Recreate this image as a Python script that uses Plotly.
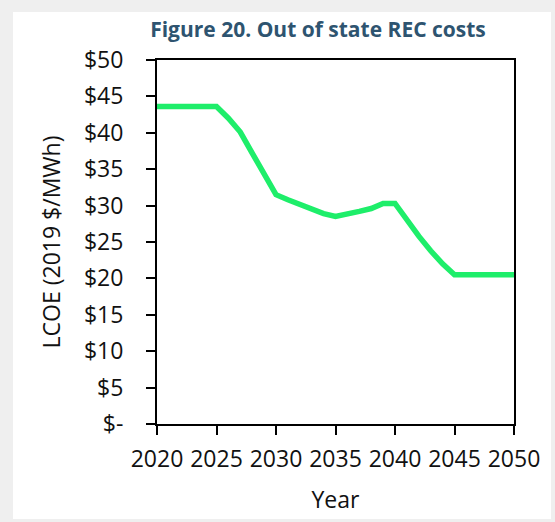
import plotly.graph_objects as go

years = list(range(2020, 2051))
lcoe = [43.6, 43.6, 43.6, 43.6, 43.6, 43.6,
        42.0, 40.1, 37.2, 34.3, 31.5,
        30.8, 30.1, 29.4, 28.9, 28.5,
        28.8, 29.2, 29.6, 30.3, 30.3,
        28.0, 25.8, 23.8, 22.0, 20.5,
        20.5, 20.5, 20.5, 20.5, 20.5]

y_tickvals = [0, 5, 10, 15, 20, 25, 30, 35, 40, 45, 50]
y_ticktext = ["$-", "$5", "$10", "$15", "$20", "$25", "$30", "$35", "$40", "$45", "$50"]
x_tickvals = [2020, 2025, 2030, 2035, 2040, 2045, 2050]

W, H = 555, 522
L, R, T, B = 157, 41, 60, 98
pw, ph = W - L - R, H - T - B

def px_x(p):
    return (p - L) / pw

def px_y(p):
    return (H - B - p) / ph

FONT = "Open Sans"

fig = go.Figure()
fig.add_trace(go.Scatter(x=years, y=lcoe, mode="lines",
                         line=dict(color="#1EEE6A", width=5.5),
                         showlegend=False, hoverinfo="skip"))

fig.update_layout(
    width=W, height=H,
    margin=dict(l=L, r=R, t=T, b=B, autoexpand=False),
    paper_bgcolor="#EFEFEF",
    plot_bgcolor="white",
    font=dict(family=FONT, color="black"),
    title=dict(text="<b>Figure 20. Out of state REC costs</b>",
               font=dict(family=FONT, size=21, color="#2E5470"),
               x=318 / W, xanchor="center", xref="container",
               y=1 - 30 / H, yanchor="middle", yref="container"),
    shapes=[dict(type="rect", xref="paper", yref="paper",
                 x0=px_x(13), x1=px_x(551), y0=px_y(519), y1=px_y(12),
                 fillcolor="white", line=dict(width=0), layer="below")],
)

fig.update_xaxes(range=[2020, 2050], tickvals=x_tickvals, automargin=False,
                 ticks="outside", ticklen=9, tickwidth=2, tickcolor="black",
                 showline=True, linecolor="black", linewidth=2, mirror=True,
                 showgrid=False, zeroline=False,
                 tickfont=dict(size=23, family=FONT, color="#111"),
                 ticklabelstandoff=4,
                 title=dict(text="Year", font=dict(size=23, family=FONT, color="#111"),
                            standoff=19))
fig.update_yaxes(range=[0, 50], tickvals=y_tickvals, ticktext=y_ticktext, automargin=False,
                 ticks="outside", ticklen=9, tickwidth=2, tickcolor="black",
                 showline=True, linecolor="black", linewidth=2, mirror=True,
                 showgrid=False, zeroline=False,
                 tickfont=dict(size=23, family=FONT, color="#111"),
                 ticklabelstandoff=18,
                 title=dict(text="LCOE (2019 $/MWh)", font=dict(size=23, family=FONT, color="#111"),
                            standoff=17))

fig.write_html("out.html", config={"displayModeBar": False},
               post_script="document.body.style.margin='0';document.body.style.background='#EFEFEF';")
